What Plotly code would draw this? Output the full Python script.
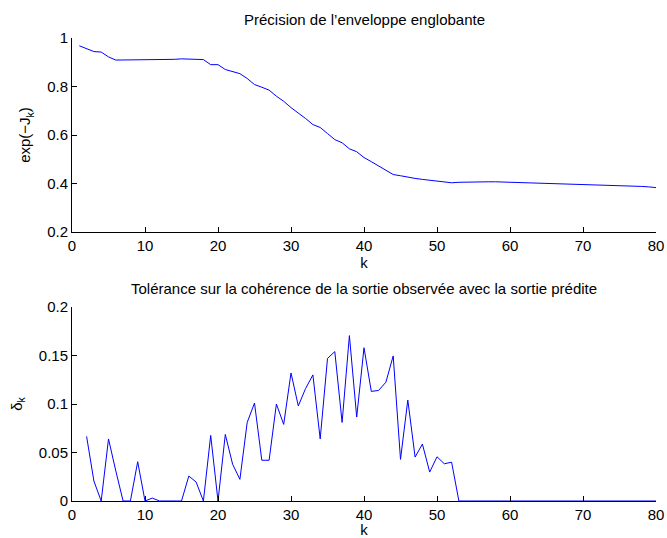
import plotly.graph_objects as go

k_top = list(range(1, 81))
precision = [0.968, 0.956, 0.944, 0.942, 0.922, 0.909, 0.909, 0.909, 0.909, 0.909,
             0.909, 0.910, 0.911, 0.912, 0.914, 0.913, 0.911, 0.911, 0.890, 0.890,
             0.870, 0.860, 0.853, 0.833, 0.808, 0.797, 0.785, 0.760, 0.739, 0.713,
             0.691, 0.668, 0.643, 0.631, 0.606, 0.581, 0.568, 0.543, 0.531, 0.507,
             0.490, 0.473, 0.457, 0.437, 0.432, 0.425, 0.421, 0.417, 0.414, 0.410,
             0.406, 0.403, 0.405, 0.406, 0.407, 0.407, 0.407, 0.407, 0.406, 0.406,
             0.405, 0.405, 0.404, 0.403, 0.402, 0.402, 0.401, 0.400, 0.399, 0.398,
             0.397, 0.396, 0.395, 0.394, 0.392, 0.391, 0.390, 0.388, 0.386, 0.383]

k_bot = list(range(2, 81))
tolerance = [0.0666, 0.0206, 0.0, 0.064, 0.031, 0.0, 0.0, 0.0405, 0.0, 0.003,
             0.0, 0.0, 0.0, 0.0, 0.0257, 0.0196, 0.0, 0.0676, 0.0, 0.0686,
             0.038, 0.0223, 0.081, 0.101, 0.042, 0.042, 0.100, 0.079, 0.132, 0.098,
             0.116, 0.130, 0.064, 0.147, 0.154, 0.081, 0.1705, 0.0865, 0.158, 0.113,
             0.114, 0.1225, 0.1496, 0.0429, 0.104, 0.0453, 0.0587, 0.0298, 0.0456, 0.0384,
             0.040, 0.0] + [0.0] * 27

x_ticks = [0, 10, 20, 30, 40, 50, 60, 70, 80]
y_ticks_top = [0.2, 0.4, 0.6, 0.8, 1]
y_ticks_top_text = ["0.2", "0.4", "0.6", "0.8", "1"]
y_ticks_bot = [0, 0.05, 0.1, 0.15, 0.2]
y_ticks_bot_text = ["0", "0.05", "0.1", "0.15", "0.2"]

title_top = "Précision de l’enveloppe englobante"
title_bot = "Tolérance sur la cohérence de la sortie observée avec la sortie prédite"

FONT = "Liberation Sans, Arial, Helvetica, sans-serif"
FS = 15

fig = go.Figure()
fig.add_trace(go.Scatter(x=k_top, y=precision, mode="lines",
                         line=dict(color="#0000ff", width=1), xaxis="x", yaxis="y"))
fig.add_trace(go.Scatter(x=k_bot, y=tolerance, mode="lines",
                         line=dict(color="#0000ff", width=1), xaxis="x2", yaxis="y2"))

axis_common = dict(showline=True, linecolor="black", linewidth=1, ticks="inside",
                   ticklen=5, tickcolor="black", showgrid=False, zeroline=False,
                   tickfont=dict(size=FS, color="black"), mirror=False,
                   automargin=False)

fig.update_layout(
    width=667, height=538,
    margin=dict(l=72, r=11, t=38, b=37),
    paper_bgcolor="white", plot_bgcolor="white",
    showlegend=False,
    font=dict(family=FONT, size=FS, color="black"),
    xaxis=dict(domain=[0, 1], anchor="y", range=[0, 80], tickvals=x_ticks,
               title=dict(text="k", standoff=0, font=dict(size=FS)), **axis_common),
    yaxis=dict(domain=[0.581, 1], anchor="x", range=[0.2, 1], tickvals=y_ticks_top,
               ticktext=y_ticks_top_text,
               title=dict(text="exp(−J<sub>k</sub>)", standoff=12, font=dict(size=FS)),
               **axis_common),
    xaxis2=dict(domain=[0, 1], anchor="y2", range=[0, 80], tickvals=x_ticks,
                title=dict(text="k", standoff=0, font=dict(size=FS)), **axis_common),
    yaxis2=dict(domain=[0, 0.419], anchor="x2", range=[0, 0.2], tickvals=y_ticks_bot,
                ticktext=y_ticks_bot_text,
                title=dict(text="δ<sub>k</sub>", standoff=12, font=dict(size=FS)),
                **axis_common),
    annotations=[
        dict(text=title_top, x=0.5, y=1, xref="paper", yref="paper",
             xanchor="center", yanchor="bottom", yshift=8, showarrow=False,
             font=dict(size=FS, color="black")),
        dict(text=title_bot, x=0.5, y=0.419, xref="paper", yref="paper",
             xanchor="center", yanchor="bottom", yshift=8, showarrow=False,
             font=dict(size=FS, color="black")),
    ],
)

# remove the page's default 8px body margin so the figure fills the window exactly
fig.write_html("out.html", config={"displayModeBar": False},
               post_script="document.body.style.margin='0';document.body.style.overflow='hidden';")
